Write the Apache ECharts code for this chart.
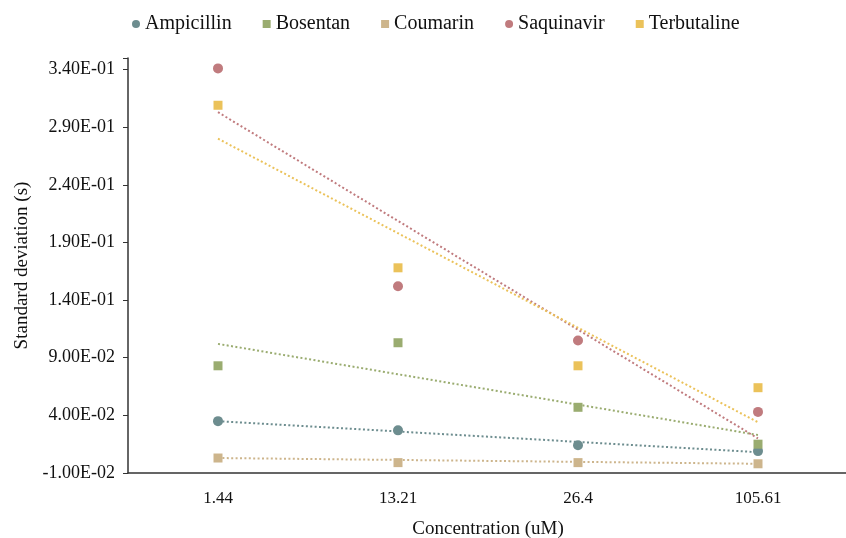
<html>
  <head>
    <meta charset="utf-8">
    <script src="https://cdn.jsdelivr.net/npm/echarts@6/dist/echarts.min.js"></script>
    <style>
      body { margin: 0; background: #fff; }
      #main { width: 846px; height: 538px; }
    </style>
  </head>
  <body>
    <div id="main"></div>
    <script>
      // concentrations (uM)
      var categories = ['1.44', '13.21', '26.4', '105.61'];

      var ampicillin  = [0.035, 0.027, 0.014, 0.009];
      var bosentan    = [0.083, 0.103, 0.047, 0.015];
      var coumarin    = [0.003, -0.001, -0.001, -0.002];
      var saquinavir  = [0.341, 0.152, 0.105, 0.043];
      var terbutaline = [0.309, 0.168, 0.083, 0.064];

      // linear trendline ends (first / last concentration)
      var trendAmpicillin  = [0.035, 0.008];
      var trendBosentan    = [0.102, 0.023];
      var trendCoumarin    = [0.003, -0.002];
      var trendSaquinavir  = [0.303, 0.020];
      var trendTerbutaline = [0.280, 0.034];

      var names  = ['Ampicillin', 'Bosentan', 'Coumarin', 'Saquinavir', 'Terbutaline'];
      var colors = ['#6d8d8f', '#9aac70', '#cdb58c', '#c07b7e', '#ebc25a'];
      var shapes = ['circle', 'rect', 'rect', 'circle', 'rect'];
      var values = [ampicillin, bosentan, coumarin, saquinavir, terbutaline];
      var trends = [trendAmpicillin, trendBosentan, trendCoumarin, trendSaquinavir, trendTerbutaline];

      var font = 'Liberation Serif, Times New Roman, serif';

      var series = [];
      names.forEach(function (n, i) {
        series.push({
          type: 'line',
          silent: true,
          symbol: 'none',
          z: 1,
          lineStyle: { color: colors[i], width: 2, type: [2, 2.4] },
          data: [[categories[0], trends[i][0]], [categories[categories.length - 1], trends[i][1]]]
        });
      });
      names.forEach(function (n, i) {
        series.push({
          name: n,
          type: 'scatter',
          symbol: shapes[i],
          symbolSize: shapes[i] === 'circle' ? 10 : 9,
          itemStyle: { color: colors[i], opacity: 1 },
          z: 3,
          data: values[i]
        });
      });

      var myChart = echarts.init(document.getElementById('main'));
      var option = {
        animation: false,
        textStyle: { fontFamily: font },
        legend: {
          data: names.map(function (n, i) { return { name: n, icon: shapes[i] === 'circle' ? 'circle' : 'rect' }; }),
          top: 9,
          left: 127,
          itemWidth: 8,
          itemHeight: 8,
          itemGap: 31,
          textStyle: { fontFamily: font, fontSize: 20, color: '#111' }
        },
        grid: { left: 128, top: 58, width: 720, bottom: 65, outerBoundsMode: 'none' },
        xAxis: {
          type: 'category',
          data: categories,
          name: 'Concentration (uM)',
          nameLocation: 'middle',
          nameGap: 47,
          nameTextStyle: { fontFamily: font, fontSize: 19, color: '#111' },
          axisLine: { onZero: false, lineStyle: { color: '#333', width: 1.5 } },
          axisTick: { alignWithLabel: true, length: 5, lineStyle: { color: '#333' } },
          axisLabel: { fontFamily: font, fontSize: 17, color: '#111', margin: 17 },
          splitLine: { show: false }
        },
        yAxis: {
          type: 'value',
          min: -0.01,
          max: 0.35,
          interval: 0.05,
          name: 'Standard deviation (s)',
          nameLocation: 'middle',
          nameGap: 96,
          nameTextStyle: { fontFamily: font, fontSize: 19, color: '#111' },
          axisLine: { show: true, lineStyle: { color: '#333', width: 1.5 } },
          axisTick: { show: true, length: 5, lineStyle: { color: '#333' } },
          axisLabel: {
            fontFamily: font, fontSize: 18, color: '#111', margin: 13,
            formatter: function (v) {
              if (v > 0.345) return '';
              return v.toExponential(2).replace(/e([+-])(\d)$/, 'E$10$2').replace('e', 'E');
            }
          },
          splitLine: { show: false }
        },
        series: series
      };
      myChart.setOption(option);
    </script>
  </body>
</html>
